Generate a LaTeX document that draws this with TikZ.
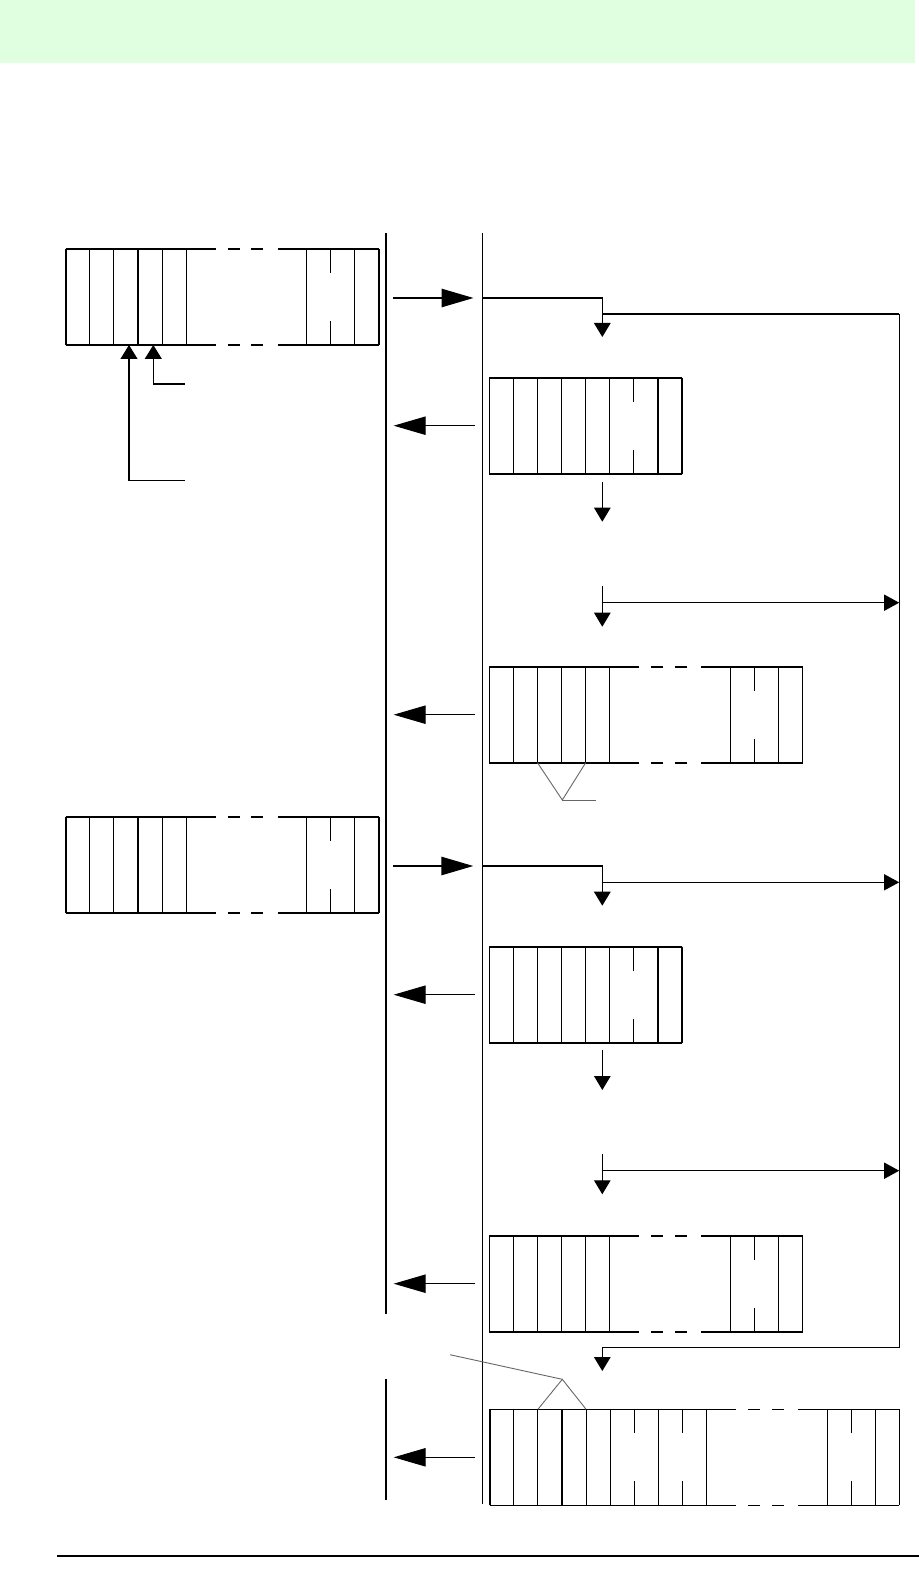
\documentclass[tikz,border=0pt]{standalone}
\usepackage{tikz}
\usepackage{xcolor}
\usetikzlibrary{arrows.meta,calc}
\definecolor{bandgreen}{HTML}{E0FFE0}
\definecolor{tagline}{HTML}{666666}

\newcommand{\cellw}{24.1}
\newcommand{\boxh}{96}

\tikzset{
  regframe/.style={inner sep=0pt, outer sep=0pt, minimum height=48pt},
  boxline/.style={line width=0.8pt},
  cellline/.style={line width=0.55pt},
  hostbus/.style={line width=1pt},
  devbus/.style={line width=0.55pt},
  sigthick/.style={line width=0.75pt},
  sigthin/.style={line width=0.55pt},
  bigtip/.style={-{Triangle[length=16pt,width=9.2pt]}},
  downtip/.style={-{Triangle[length=7pt,width=8.25pt]}},
  sidetip/.style={-{Triangle[length=7.5pt,width=8pt]}},
  tagstroke/.style={draw=tagline, line width=0.45pt}
}

% name, x, y, cells, gap from, gap to, full dividers, split dividers
\newcommand{\regbox}[8]{%
  \node[regframe, minimum width=#4*12.05pt, anchor=north west] (#1) at (#2,#3) {};
  \draw[boxline] (#1.north west) -- (#1.south west);
  \draw[boxline] (#1.north east) -- (#1.south east);
  \ifnum#5<#4\relax
    \foreach \yy in {0,\boxh}{%
      \draw[boxline] ($(#1.north west)+(0,\yy)$) -- ++(#5*\cellw+29.3,0);
      \draw[boxline] ($(#1.north west)+(#6*\cellw-29,\yy)$) -- ($(#1.north east)+(0,\yy)$);
      \foreach \dd in {41.5,65}
        \draw[boxline] ($(#1.north west)+(#5*\cellw+\dd,\yy)$) -- ++(12,0);
    }%
  \else
    \draw[boxline] (#1.north west) -- (#1.north east) (#1.south west) -- (#1.south east);
  \fi
  \foreach \i in {#7}
    \draw[cellline] ($(#1.north west)+(\i*\cellw,0)$) -- ++(0,\boxh);
  \foreach \i in {#8}{%
    \draw[cellline] ($(#1.north west)+(\i*\cellw,0)$) -- ++(0,24);
    \draw[cellline] ($(#1.south west)+(\i*\cellw,0)$) -- ++(0,-24);
  }%
}

\begin{document}
\begin{tikzpicture}[x=0.5pt,y=-0.5pt]
  \useasboundingbox (0,0) rectangle (919,1583);
  \fill[bandgreen] (0,0) rectangle (915,62.7);
  \draw[line width=0.55pt] (57,1556) -- (919,1556);

  % the two buses
  \coordinate (lbus-a) at (385.8,233);
  \coordinate (lbus-b) at (385.8,1314);
  \coordinate (lbus-c) at (385.8,1379);
  \coordinate (lbus-d) at (385.8,1500);
  \coordinate (tbus-a) at (482.4,233);
  \coordinate (tbus-b) at (482.4,1504);
  \draw[hostbus] (lbus-a) -- (lbus-b) (lbus-c) -- (lbus-d);
  \draw[devbus] (tbus-a) -- (tbus-b);

  \regbox{cmd1}{65.7}{249}{13}{5}{10}{1,...,5,10,12}{11}
  \regbox{resp1}{489.3}{377.7}{8}{8}{8}{1,...,5,7}{6}
  \regbox{data1}{489.3}{666.7}{13}{5}{10}{1,...,5,10,12}{11}
  \regbox{cmd2}{65.7}{816.7}{13}{5}{10}{1,...,5,10,12}{11}
  \regbox{resp2}{489.3}{946.7}{8}{8}{8}{1,...,5,7}{6}
  \regbox{data2}{489.3}{1235.7}{13}{5}{10}{1,...,5,10,12}{11}
  \regbox{data3}{489.7}{1409.3}{17}{9}{14}{1,...,5,7,9,14,16}{6,8,15}

  % pointers under the first command
  \coordinate (ptr-a) at (185,384);
  \coordinate (ptr-a-tip) at (153.3,345);
  \coordinate (ptr-b) at (185,480.7);
  \coordinate (ptr-b-tip) at (129,345);
  \draw[sigthin, -{Triangle[length=7pt,width=8.5pt]}] (ptr-a) -| (ptr-a-tip);
  \draw[sigthin, -{Triangle[length=7pt,width=8.5pt]}] (ptr-b) -| (ptr-b-tip);

  % commands out
  \coordinate (req1-s) at (393,298);
  \coordinate (req1-e) at (473.5,298);
  \coordinate (req2-s) at (393.3,866);
  \coordinate (req2-e) at (473.3,866);
  \draw[sigthick, bigtip] (req1-s) -- (req1-e);
  \draw[sigthick, bigtip] (req2-s) -- (req2-e);

  % responses back
  \foreach \b in {resp1,data1,resp2,data2,data3}
    \draw[sigthin, bigtip] ([xshift=-7.4pt]\b.west) -- ([xshift=3.95pt]\b.west -| lbus-a);

  % device side flow
  \coordinate (fwd1-s) at (482.4,298);
  \coordinate (fwd1-t) at (602.3,337);
  \coordinate (fwd2-s) at (482.4,866);
  \coordinate (fwd2-t) at (602.3,905.7);
  \draw[sigthick, downtip] (fwd1-s) -| (fwd1-t);
  \draw[sigthick, downtip] (fwd2-s) -| (fwd2-t);

  \coordinate (loop-tl) at (602.3,314);
  \coordinate (loop-tr) at (899.2,314);
  \coordinate (loop-br) at (899.2,1347.7);
  \coordinate (loop-bl) at (602.3,1347.7);
  \coordinate (loop-t) at (602.3,1371);
  \draw[sigthick] (loop-tl) -- (loop-tr);
  \draw[sigthin] (loop-tr) -- (loop-br);
  \draw[sigthick, downtip] (loop-br) -- (loop-bl) -- (loop-t);

  \coordinate (nxt1-s) at (602.3,482);
  \coordinate (nxt1-t) at (602.3,521.7);
  \coordinate (nxt2-s) at (602.3,1050);
  \coordinate (nxt2-t) at (602.3,1090);
  \draw[sigthin, downtip] (nxt1-s) -- (nxt1-t);
  \draw[sigthin, downtip] (nxt2-s) -- (nxt2-t);

  \coordinate (fork1-a) at (602.3,586);
  \coordinate (fork1-t) at (602.3,626.7);
  \coordinate (fork1-h) at (602.3,602.7);
  \coordinate (fork1-r) at (899.2,602.7);
  \draw[sigthin, downtip] (fork1-a) -- (fork1-t);
  \draw[sigthick, sidetip] (fork1-h) -- (fork1-r);

  \coordinate (fork2-h) at (602.3,882.3);
  \coordinate (fork2-r) at (899.2,882.3);
  \draw[sigthin, sidetip] (fork2-h) -- (fork2-r);

  \coordinate (fork3-a) at (602.3,1154);
  \coordinate (fork3-t) at (602.3,1194.3);
  \coordinate (fork3-h) at (602.3,1170.7);
  \coordinate (fork3-r) at (899.2,1170.7);
  \draw[sigthin, downtip] (fork3-a) -- (fork3-t);
  \draw[sigthick, sidetip] (fork3-h) -- (fork3-r);

  % field brackets
  \coordinate (tag1) at (562.3,800);
  \coordinate (tag1-e) at (596,800);
  \draw[tagstroke] ($(data1.south west)+(2*\cellw,0)$) -- (tag1) -- ($(data1.south west)+(4*\cellw,0)$);
  \draw[tagstroke] (tag1) -- (tag1-e);
  \coordinate (tag2) at (562.3,1379.3);
  \coordinate (tag2-e) at (450,1354.7);
  \draw[tagstroke] ($(data3.north west)+(2*\cellw,0)$) -- (tag2) -- ($(data3.north west)+(4*\cellw,0)$);
  \draw[tagstroke] (tag2) -- (tag2-e);
\end{tikzpicture}
\end{document}
